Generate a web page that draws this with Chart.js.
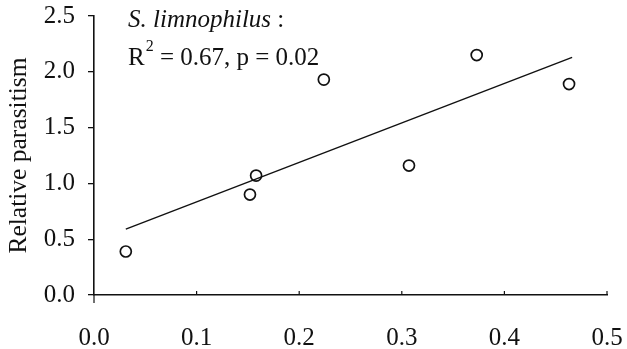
<!DOCTYPE html>
<html>
<head>
<meta charset="utf-8">
<script src="https://cdn.jsdelivr.net/npm/chart.js@4.4.0/dist/chart.umd.min.js"></script>
<style>
  html, body { margin: 0; padding: 0; background: #fff; }
  #wrap { width: 627px; height: 349px; position: relative; }
</style>
</head>
<body>
<div id="wrap"><canvas id="chart"></canvas></div>
<script>
// observed points (proportion vs relative parasitism)
const xValues = [0.031, 0.152, 0.158, 0.224, 0.307, 0.373, 0.463];
const yValues = [0.39, 0.90, 1.07, 1.93, 1.16, 2.15, 1.89];
// fitted line end points
const fitX = [0.031, 0.466];
const fitY = [0.59, 2.13];
const xTicks = [0.0, 0.1, 0.2, 0.3, 0.4, 0.5];
const yTicks = [0.0, 0.5, 1.0, 1.5, 2.0, 2.5];
const yTitle = "Relative parasitism";
const speciesName = "S. limnophilus";
const statsText = ["R", "2", " = 0.67, p = 0.02"];

const serif = "'Liberation Serif', 'Times New Roman', serif";
const ink = "#111";

// small upward ticks on the x axis + annotation text
const extras = {
    id: "extras",
    afterDraw(chart) {
        const c = chart.ctx;
        const xs = chart.scales.x;
        const ys = chart.scales.y;
        c.save();
        c.strokeStyle = ink;
        c.lineWidth = 1.2;
        xTicks.slice(1).forEach(v => {
            const px = xs.getPixelForValue(v);
            c.beginPath();
            c.moveTo(px, ys.bottom);
            c.lineTo(px, ys.bottom - 4);
            c.stroke();
        });
        // extend y axis a bit below x axis like the original
        c.beginPath();
        c.moveTo(xs.left, ys.bottom);
        c.lineTo(xs.left, ys.bottom + 8);
        c.stroke();

        c.fillStyle = ink;
        c.textBaseline = "alphabetic";
        c.font = "italic 25px " + serif;
        c.fillText(speciesName, 128, 27);
        let w = c.measureText(speciesName).width;
        c.font = "25px " + serif;
        c.fillText(" :", 128 + w, 27);
        let x = 128;
        c.fillText(statsText[0], x, 65);
        x += c.measureText(statsText[0]).width;
        c.font = "16px " + serif;
        c.fillText(statsText[1], x + 1, 51);
        x += c.measureText(statsText[1]).width + 1;
        c.font = "25px " + serif;
        c.fillText(statsText[2], x, 65);
        c.restore();
    }
};

function drawChart() {
    new Chart(document.getElementById("chart"), {
        type: "scatter",
        data: {
            datasets: [
                {
                    label: "fit",
                    type: "line",
                    data: fitX.map((x, i) => ({ x: x, y: fitY[i] })),
                    borderColor: ink,
                    borderWidth: 1.4,
                    pointRadius: 0,
                    fill: false
                },
                {
                    label: speciesName,
                    data: xValues.map((x, i) => ({ x: x, y: yValues[i] })),
                    pointRadius: 5.5,
                    pointBorderWidth: 1.7,
                    pointBorderColor: ink,
                    pointBackgroundColor: "#fff"
                }
            ]
        },
        options: {
            responsive: true,
            maintainAspectRatio: false,
            animation: false,
            layout: { padding: { top: 16, right: 20, left: 0, bottom: 0 } },
            plugins: { legend: { display: false }, tooltip: { enabled: false } },
            scales: {
                x: {
                    type: "linear",
                    min: 0,
                    max: 0.5,
                    afterBuildTicks: axis => { axis.ticks = xTicks.map(v => ({ value: v })); },
                    afterFit: axis => {
                        axis.height = 54;
                        axis.paddingLeft = 0;
                        axis.paddingRight = 0;
                    },
                    grid: { display: true, drawOnChartArea: false, drawTicks: false, tickLength: 0 },
                    border: { display: true, color: ink, width: 1.6 },
                    ticks: {
                        color: ink,
                        padding: 28,
                        maxRotation: 0,
                        font: { family: serif, size: 25 },
                        callback: v => Number(v).toFixed(1)
                    }
                },
                y: {
                    type: "linear",
                    min: 0,
                    max: 2.5,
                    afterBuildTicks: axis => { axis.ticks = yTicks.map(v => ({ value: v })); },
                    afterFit: axis => {
                        axis.width = 94;
                        axis.paddingTop = 0;
                        axis.paddingBottom = 0;
                    },
                    grid: { display: true, drawOnChartArea: false, drawTicks: true, tickLength: 6, color: ink, lineWidth: 1.3 },
                    border: { display: true, color: ink, width: 1.6 },
                    ticks: {
                        color: ink,
                        padding: 13,
                        font: { family: serif, size: 25 },
                        callback: v => Number(v).toFixed(1)
                    },
                    title: {
                        display: true,
                        text: yTitle,
                        color: ink,
                        font: { family: serif, size: 25.5 },
                        padding: { top: 4, bottom: 0 }
                    }
                }
            }
        },
        plugins: [extras]
    });
}

// make sure the serif face is ready before the canvas text is drawn
Promise.all([
    document.fonts.load("25px 'Liberation Serif'"),
    document.fonts.load("italic 25px 'Liberation Serif'")
]).then(drawChart, drawChart);
</script>
</body>
</html>
